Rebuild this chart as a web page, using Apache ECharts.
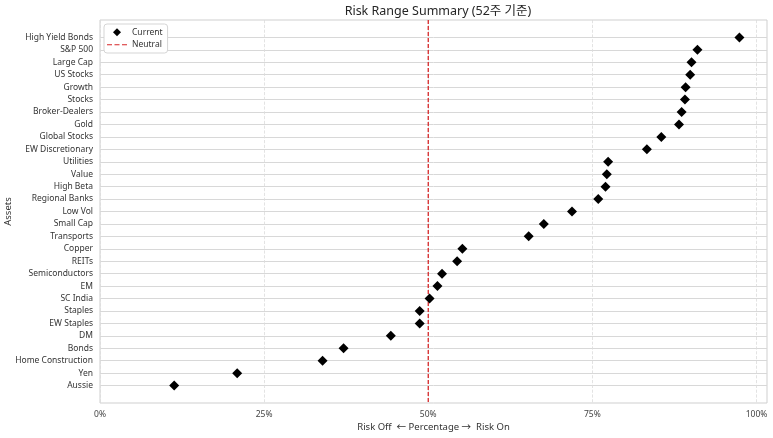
<!DOCTYPE html>
<html><head><meta charset="utf-8">
<script src="https://cdn.jsdelivr.net/npm/echarts@6/dist/echarts.min.js"></script>
<style>html,body{margin:0;padding:0;background:#fff}#c{width:773px;height:438px}</style>
</head><body><div id="c"></div>
<script>
const categories = ["High Yield Bonds","S&P 500","Large Cap","US Stocks","Growth","Stocks","Broker-Dealers","Gold","Global Stocks","EW Discretionary","Utilities","Value","High Beta","Regional Banks","Low Vol","Small Cap","Transports","Copper","REITs","Semiconductors","EM","SC India","Staples","EW Staples","DM","Bonds","Home Construction","Yen","Aussie"];
const currentValues = [97.4,91.0,90.1,89.9,89.2,89.1,88.6,88.2,85.5,83.3,77.4,77.2,77.0,75.9,71.9,67.6,65.3,55.2,54.4,52.1,51.4,50.2,48.7,48.7,44.3,37.1,33.9,20.9,11.3];
const neutralValue = 50;
const xTicks = [0,25,50,75,100];

const F = "'Noto Sans','Noto Sans CJK KR',sans-serif";
const idx = categories.map((_, i) => i);
const chart = echarts.init(document.getElementById('c'));
chart.setOption({
  animation: false,
  textStyle: {fontFamily: F},
  title: {text: 'Risk Range Summary (52주 기준)', left: 433, textAlign: 'center', top: 0,
    textStyle: {fontFamily: F, fontSize: 12.5, fontWeight: 'normal', color: '#262626'}},
  grid: {left: 100, top: 20, right: 6, bottom: 35, show: true, borderColor: '#cfcfcf', borderWidth: 1,
    containLabel: false, outerBoundsMode: 'none'},
  legend: {orient: 'vertical', left: 104, top: 24, itemGap: 4, itemWidth: 20, itemHeight: 8,
    symbolKeepAspect: true,
    backgroundColor: '#fff', borderColor: '#d5d5d5', borderWidth: 1, borderRadius: 3, padding: [4, 5, 4, 3],
    textStyle: {fontFamily: F, fontSize: 8.5, color: '#333'},
    data: [
      {name: 'Current', icon: 'path://M0,5L5,0L10,5L5,10Z', itemStyle: {color: '#000'}},
      {name: 'Neutral', icon: 'path://M0,0H5V1.2H0Z M7.5,0H12.5V1.2H7.5Z M15,0H20V1.2H15Z', itemStyle: {color: '#d62728'}}
    ]},
  xAxis: {type: 'value', min: 0, max: 101.6,
    name: 'Risk Off  ← Percentage →  Risk On', nameLocation: 'middle', nameGap: 20, nameMoveOverlap: false,
    nameTextStyle: {fontFamily: F, fontSize: 9.5, color: '#333'},
    axisLine: {show: false}, axisTick: {show: false, customValues: xTicks},
    axisLabel: {customValues: xTicks, formatter: v => v + '%', fontSize: 8.5, color: '#444', margin: 7, fontFamily: F},
    splitLine: {show: true, lineStyle: {color: '#dcdcdc', type: 'dashed', width: 0.8}}},
  yAxis: {type: 'value', inverse: true, min: -1.4, max: 29.4,
    name: 'Assets', nameLocation: 'middle', nameRotate: 90, nameGap: 87, nameMoveOverlap: false,
    nameTextStyle: {fontFamily: F, fontSize: 9.5, color: '#333'},
    axisLine: {show: false}, axisTick: {show: false, customValues: idx},
    axisLabel: {customValues: idx, formatter: v => categories[Math.round(v)] || '', fontSize: 8.5, color: '#333', margin: 7, fontFamily: F},
    splitLine: {show: true, lineStyle: {color: '#d8d8d8', width: 1}}},
  series: [
    {name: 'Neutral', type: 'line', symbol: 'none', silent: true, z: 3,
      lineStyle: {color: '#d62728', type: [4, 2], width: 1.3}, itemStyle: {color: '#d62728'},
      data: [[neutralValue, -1.4], [neutralValue, 29.4]]},
    {name: 'Current', type: 'scatter', symbol: 'diamond', symbolSize: [10, 10], z: 4,
      itemStyle: {color: '#000', opacity: 1},
      data: currentValues.map((v, i) => [v, i])}
  ]
});
</script></body></html>
